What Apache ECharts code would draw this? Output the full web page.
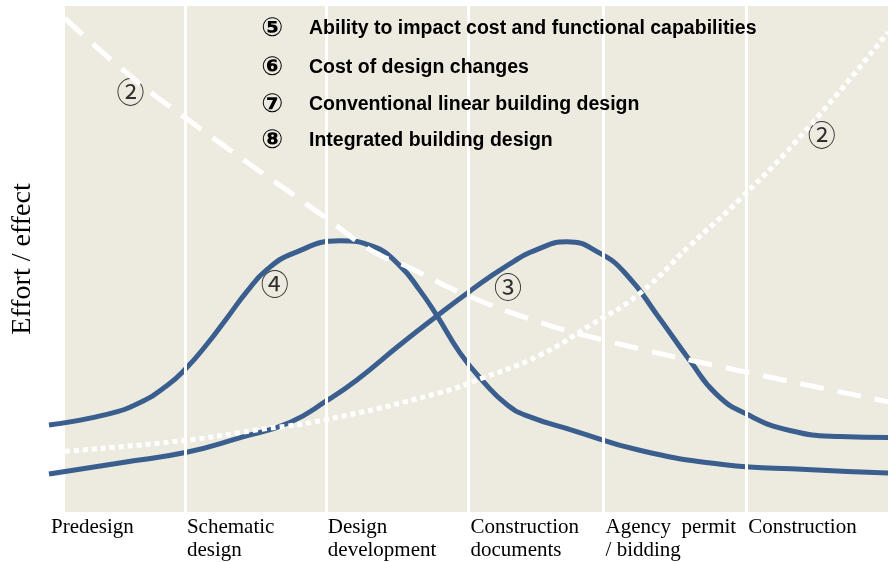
<!DOCTYPE html>
<html>
<head>
<meta charset="utf-8">
<script src="https://cdn.jsdelivr.net/npm/echarts@6/dist/echarts.min.js"></script>
<style>
  html, body { margin: 0; padding: 0; background: #fff; }
  #main { width: 888px; height: 562px; }
</style>
</head>
<body>
<div id="main"></div>
<script>
// phases along the timeline (x in % of the project)
var phaseNames = ['Predesign', 'Schematic\ndesign', 'Design\ndevelopment', 'Construction\ndocuments', 'Agency  permit\n/ bidding', 'Construction'];
var phaseStarts = [0, 16.2, 33.0, 50.0, 66.1, 83.1];
var areaStart = 1.9;

var legendNums = ['⑤', '⑥', '⑦', '⑧'];
var legendTexts = [
    'Ability to impact cost and functional capabilities',
    'Cost of design changes',
    'Conventional linear building design',
    'Integrated building design'
];

// ④ integrated design effort
var integratedEffort = [
    [0, 17.2], [6.9, 19.3], [10.8, 21.6], [14.0, 24.9], [16.4, 28.5], [18.8, 33.1],
    [21.2, 38.3], [23.6, 43.6], [25.9, 47.8], [29.1, 51.1], [34.7, 53.6], [38.6, 52.5],
    [41.8, 48.7], [44.2, 43.8], [46.2, 38.9], [49.0, 31.4], [51.7, 25.9], [54.6, 21.2],
    [57.0, 19.0], [62.5, 16.1], [70.4, 12.2], [80.3, 9.4], [90.3, 8.4], [100, 7.7]
];
// ③ conventional design effort
var conventionalEffort = [
    [0, 7.5], [8.8, 9.8], [16.4, 11.8], [22.8, 14.7], [28.7, 17.7], [33.1, 22.0],
    [36.7, 26.1], [41.8, 33.0], [46.2, 38.7], [49.8, 43.2], [54.6, 48.7], [58.5, 52.1],
    [61.7, 53.4], [65.7, 51.1], [68.9, 46.8], [72.5, 38.9], [76.4, 29.9], [79.6, 23.2],
    [83.2, 19.3], [88.3, 16.1], [94.3, 14.9], [100, 14.7]
];
// ability to impact cost (dashed)
var abilityToImpact = [
    [1.9, 97.6], [8.8, 87.4], [16.0, 78.2], [33.1, 58.0], [38.6, 51.5],
    [42.7, 48.5], [47.4, 44.6], [49.8, 42.8], [57.0, 38.3], [66.5, 33.8], [82.4, 27.9], [100, 21.8]
];
// cost of design changes (dotted)
var costOfChanges = [
    [1.9, 12.0], [16.0, 14.1], [24.3, 16.1], [33.1, 18.3], [46.6, 23.6], [51.7, 26.5],
    [58.5, 31.0], [64.5, 36.9], [70.4, 43.2], [76.4, 52.7], [82.4, 61.9], [90.3, 75.6], [100, 94.8]
];

var noteLabels = ['②', '②', '④', '③'];
var notePos = [[9.7, 82.9], [92.1, 74.5], [26.9, 45.0], [54.7, 44.4]];

(function () {
    var myChart = echarts.init(document.getElementById('main'));
    var bg = '#EDEAE0';
    var blue = '#3A5E8E';

    var graphics = [];
    var legendY = [29, 68, 105, 141];
    for (var i = 0; i < legendTexts.length; i++) {
        graphics.push({
            type: 'text', x: 272, y: legendY[i], z: 100,
            style: { text: legendNums[i], font: 'bold 26px "DejaVu Sans"', fill: '#000', textAlign: 'center', textVerticalAlign: 'middle' }
        });
        graphics.push({
            type: 'text', x: 309, y: legendY[i], z: 100,
            style: { text: legendTexts[i], font: 'bold 19.5px "Liberation Sans", Arial', fill: '#000', textAlign: 'left', textVerticalAlign: 'middle' }
        });
    }

    var option = {
        animation: false,
        backgroundColor: '#fff',
        grid: { left: 49, right: 0, top: 6, bottom: 47 },
        graphic: graphics,
        xAxis: {
            type: 'value',
            min: 0,
            max: 100,
            axisLine: { show: false },
            axisTick: { show: false },
            splitLine: { show: false },
            axisLabel: {
                customValues: phaseStarts,
                formatter: function (v) {
                    return phaseNames[phaseStarts.indexOf(v)];
                },
                align: 'left',
                verticalAlign: 'top',
                margin: 4,
                padding: [0, 0, 0, 2],
                color: '#000',
                fontFamily: '"Liberation Serif", "Times New Roman", serif',
                fontSize: 21,
                lineHeight: 23
            }
        },
        yAxis: {
            type: 'value',
            min: 0,
            max: 100,
            name: 'Effort / effect',
            nameLocation: 'middle',
            nameGap: 12,
            nameTextStyle: {
                color: '#000',
                fontFamily: '"Liberation Serif", "Times New Roman", serif',
                fontSize: 28
            },
            axisLine: { show: false },
            axisTick: { show: false },
            axisLabel: { show: false },
            splitLine: { show: false }
        },
        series: [
            {
                // background band and phase dividers
                type: 'line',
                data: [],
                silent: true,
                markArea: {
                    silent: true,
                    itemStyle: { color: bg },
                    data: [[{ xAxis: areaStart }, { xAxis: 100 }]]
                },
                markLine: {
                    silent: true,
                    symbol: 'none',
                    label: { show: false },
                    lineStyle: { color: '#fff', width: 3, type: 'solid' },
                    data: phaseStarts.slice(1).map(function (v) { return { xAxis: v }; })
                }
            },
            {
                name: 'Integrated building design',
                type: 'line',
                data: integratedEffort,
                smooth: 0.5,
                symbol: 'none',
                lineStyle: { color: blue, width: 5 }
            },
            {
                name: 'Conventional linear building design',
                type: 'line',
                data: conventionalEffort,
                smooth: 0.5,
                symbol: 'none',
                lineStyle: { color: blue, width: 5 }
            },
            {
                name: 'Ability to impact cost and functional capabilities',
                type: 'line',
                data: abilityToImpact,
                smooth: 0.5,
                symbol: 'none',
                lineStyle: { color: '#fff', width: 5, type: [24, 14], cap: 'butt' }
            },
            {
                name: 'Cost of design changes',
                type: 'line',
                data: costOfChanges,
                smooth: 0.5,
                symbol: 'none',
                lineStyle: { color: '#fff', width: 5, type: [5, 4], cap: 'butt' }
            },
            {
                type: 'scatter',
                silent: true,
                symbolSize: 1,
                itemStyle: { color: 'rgba(0,0,0,0)' },
                data: notePos.map(function (p, i) { return { value: p, name: noteLabels[i] }; }),
                label: {
                    show: true,
                    position: 'inside',
                    formatter: '{b}',
                    color: '#000',
                    fontFamily: '"Noto Sans CJK SC"',
                    fontSize: 28
                }
            }
        ]
    };
    myChart.setOption(option);
    window.addEventListener('resize', function () {
        myChart.resize();
    });
})();
</script>
</body>
</html>
